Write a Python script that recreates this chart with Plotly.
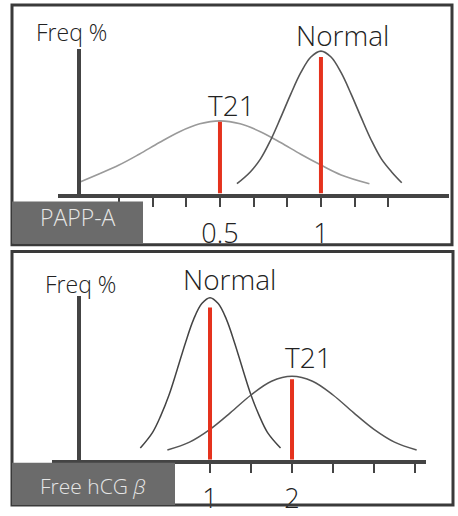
import plotly.graph_objects as go

W, H = 458, 516

# ---------------- data ----------------
# Top panel: PAPP-A (MoM)
papp_t21_x = [-0.19, 0.0, 0.1, 0.2, 0.3, 0.4, 0.5, 0.6, 0.7, 0.8, 0.9, 1.0, 1.1, 1.24]
papp_t21_y = [12, 29, 40, 52, 63, 71, 74, 71, 63, 52, 40, 29, 19, 10]
papp_norm_x = [0.584, 0.65, 0.7, 0.75, 0.8, 0.85, 0.9, 0.95, 1.0, 1.05, 1.1, 1.15, 1.2, 1.25, 1.3, 1.35, 1.4]
papp_norm_y = [10, 22, 35, 54, 77, 101, 123, 139, 145, 139, 123, 101, 77, 54, 35, 22, 11]
papp_medians = [0.5, 1.0]
papp_median_h = [73, 139]
papp_ticks = [0, 1/6, 2/6, 3/6, 4/6, 5/6, 1, 7/6, 8/6]
papp_ticktext = ["", "", "", "0.5", "", "", "1", "", ""]

# Bottom panel: free hCG beta (MoM)
hcg_norm_x = [0.15, 0.3, 0.4, 0.5, 0.6, 0.7, 0.8, 0.9, 1.0, 1.1, 1.2, 1.3, 1.4, 1.5, 1.6, 1.7, 1.86]
hcg_norm_y = [12, 28, 45, 66, 92, 119, 143, 159, 165, 159, 143, 119, 92, 66, 45, 28, 12]
hcg_t21_x = [0.48, 0.75, 1.0, 1.25, 1.5, 1.75, 2.0, 2.25, 2.5, 2.75, 3.0, 3.25, 3.52]
hcg_t21_y = [10, 18, 31, 48, 66, 80, 85, 80, 66, 48, 31, 18, 10]
hcg_medians = [1.0, 2.0]
hcg_median_h = [155, 82]
hcg_ticks = [0, 0.5, 1, 1.5, 2, 2.5, 3, 3.5]
hcg_ticktext = ["", "", "1", "", "2", "", "", ""]

FONT = "Open Sans"
AX = "#444444"
RED = "#e5321d"


def px(x):
    return x / W


def py(y):
    return 1 - y / H


fig = go.Figure()

# top curves
fig.add_trace(go.Scatter(x=papp_t21_x, y=papp_t21_y, mode="lines", line=dict(color="#9a9a9a", width=1.6, shape="spline"),
                         xaxis="x", yaxis="y", showlegend=False, hoverinfo="skip"))
fig.add_trace(go.Scatter(x=papp_norm_x, y=papp_norm_y, mode="lines", line=dict(color="#555555", width=1.6, shape="spline"),
                         xaxis="x", yaxis="y", showlegend=False, hoverinfo="skip"))
for m, h in zip(papp_medians, papp_median_h):
    fig.add_trace(go.Scatter(x=[m, m], y=[0, h], mode="lines", line=dict(color=RED, width=4),
                             xaxis="x", yaxis="y", showlegend=False, hoverinfo="skip"))

# bottom curves
fig.add_trace(go.Scatter(x=hcg_norm_x, y=hcg_norm_y, mode="lines", line=dict(color="#444444", width=1.5, shape="spline"),
                         xaxis="x2", yaxis="y2", showlegend=False, hoverinfo="skip"))
fig.add_trace(go.Scatter(x=hcg_t21_x, y=hcg_t21_y, mode="lines", line=dict(color="#555555", width=1.5, shape="spline"),
                         xaxis="x2", yaxis="y2", showlegend=False, hoverinfo="skip"))
for m, h in zip(hcg_medians, hcg_median_h):
    fig.add_trace(go.Scatter(x=[m, m], y=[0, h], mode="lines", line=dict(color=RED, width=4),
                             xaxis="x2", yaxis="y2", showlegend=False, hoverinfo="skip"))

xcommon = dict(showgrid=False, zeroline=False, showline=True, linewidth=4, linecolor=AX,
               ticks="outside", ticklen=9, tickwidth=2, tickcolor=AX,
               tickfont=dict(family=FONT, size=27, color="#222222", weight=300), fixedrange=True)
ycommon = dict(showgrid=False, zeroline=False, showline=True, linewidth=3.5, linecolor=AX,
               showticklabels=False, ticks="", anchor="free", position=px(78), fixedrange=True)

shapes = [
    # panel frames
    dict(type="rect", xref="paper", yref="paper", x0=px(12), x1=px(452), y0=py(5), y1=py(249),
         line=dict(color="#3a3a3a", width=3), layer="above"),
    dict(type="rect", xref="paper", yref="paper", x0=px(12), x1=px(453), y0=py(256), y1=py(514),
         line=dict(color="#3a3a3a", width=3), layer="above"),
    # label boxes
    dict(type="rect", xref="paper", yref="paper", x0=px(12), x1=px(143), y0=py(205), y1=py(248),
         fillcolor="#6b6b6b", line=dict(width=0), layer="above"),
    dict(type="rect", xref="paper", yref="paper", x0=px(12), x1=px(175), y0=py(471), y1=py(514),
         fillcolor="#6b6b6b", line=dict(width=0), layer="above"),
]

def ann(text, x, y, size, color="#222222", xref="paper", xshift=0):
    return dict(text=text, x=x, y=y, xref=xref, yref="paper", xanchor="center", yanchor="middle",
                showarrow=False, xshift=xshift, font=dict(family=FONT, size=size, color=color, weight=300))

annotations = [
    ann("Freq %", px(71), py(33), 23),
    ann("Normal", papp_medians[1], py(36), 28, xref="x", xshift=22),
    ann("T21", papp_medians[0], py(107), 28, xref="x", xshift=12),
    ann("PAPP-A", px(78), py(221), 23, color="#e6e6e6"),
    ann("Freq %", px(80), py(289), 23),
    ann("Normal", hcg_medians[0], py(284), 28, xref="x2", xshift=19),
    ann("T21", hcg_medians[1], py(363), 28, xref="x2", xshift=16),
    ann("Free hCG <i>β</i>", px(93), py(495), 21, color="#e6e6e6"),
]

fig.update_layout(
    width=W, height=H, margin=dict(l=0, r=0, t=0, b=0),
    paper_bgcolor="white", plot_bgcolor="rgba(0,0,0,0)",
    xaxis=dict(xcommon, domain=[px(58), px(449)], range=[-0.302, 1.634], anchor="y",
               tickvals=papp_ticks, ticktext=papp_ticktext, ticklabelstandoff=4),
    yaxis=dict(ycommon, domain=[py(197), py(50)], range=[0, 147]),
    xaxis2=dict(xcommon, domain=[px(52), px(426)], range=[-0.927, 3.634], anchor="y2",
                tickvals=hcg_ticks, ticktext=hcg_ticktext, ticklabelstandoff=3),
    yaxis2=dict(ycommon, domain=[py(468), py(301)], range=[0, 167]),
    shapes=shapes, annotations=annotations, showlegend=False, hovermode=False,
)

fig.write_html("out.html", config={"displayModeBar": False, "staticPlot": True},
               post_script="document.body.style.margin='0px';")
